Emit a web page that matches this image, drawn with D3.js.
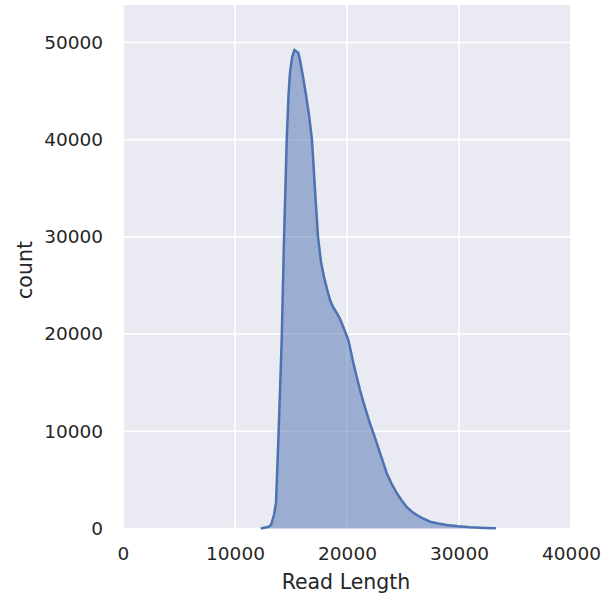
<!DOCTYPE html>
<html>
<head>
<meta charset="utf-8">
<script src="https://cdn.jsdelivr.net/npm/d3@7"></script>
<style>
  html, body { margin: 0; padding: 0; background: #ffffff; }
  svg { display: block; }
  text { font-family: "DejaVu Sans", sans-serif; fill: #262626; }
</style>
</head>
<body>
<svg id="chart" width="603" height="601"></svg>
<script>
// Read length (bin centres) and counts
const readLength = [12300, 12590, 12950, 13215, 13480, 13660, 13870, 14170, 14375,
  14617, 14780, 14912, 15090, 15296, 15447, 15652, 15804, 16072, 16340,
  16608, 16875, 17143, 17411, 17679, 17947, 18215, 18483, 18751, 19081,
  19376, 19670, 19912, 20117, 20358, 20563, 20849, 21161, 21456, 21760,
  22054, 22349, 22652, 22947, 23242, 23545, 23991, 24438, 24884, 25331,
  25777, 26224, 26787, 27412, 28125, 28902, 29911, 30983, 32322, 33300];
const counts = [10, 70, 150, 360, 1390, 2620, 9100, 19400, 29700,
  39950, 44600, 46900, 48400, 49240, 49100, 48930, 48200, 46460, 44600,
  42550, 39950, 34830, 30000, 27420, 25880, 24640, 23510, 22790, 22170,
  21560, 20730, 20010, 19390, 18160, 17030, 15690, 14250, 13020, 11890,
  10800, 9830, 8800, 7770, 6740, 5710, 4580, 3650, 2880, 2210,
  1750, 1390, 1030, 700, 520, 370, 230, 130, 55, 15];
const xTicks = [0, 10000, 20000, 30000, 40000];
const yTicks = [0, 10000, 20000, 30000, 40000, 50000];
const xLabel = "Read Length";
const yLabel = "count";

(function () {
const svg = d3.select("#chart");
const pL = 123, pR = 571, pT = 5, pB = 528.5;
const x = d3.scaleLinear().domain([0, 40000]).range([pL, pR]);
const y = d3.scaleLinear().domain([0, 53850]).range([pB, pT]);

svg.append("rect").attr("x", pL).attr("y", pT)
  .attr("width", pR - pL).attr("height", pB - pT).attr("fill", "#EAEAF2");

const g = svg.append("g");
g.selectAll(".gx").data(xTicks).join("line")
  .attr("x1", d => x(d)).attr("x2", d => x(d)).attr("y1", pT).attr("y2", pB)
  .attr("stroke", "#ffffff").attr("stroke-width", 1.6);
g.selectAll(".gy").data(yTicks).join("line")
  .attr("y1", d => y(d)).attr("y2", d => y(d)).attr("x1", pL).attr("x2", pR)
  .attr("stroke", "#ffffff").attr("stroke-width", 1.6);

const pts = readLength.map((d, i) => [d, counts[i]]);
const area = d3.area().x(d => x(d[0])).y0(y(0)).y1(d => y(d[1]));
const line = d3.line().x(d => x(d[0])).y(d => y(d[1]));

svg.append("path").datum(pts).attr("d", area)
  .attr("fill", "#4C72B0").attr("fill-opacity", 0.5);
svg.append("path").datum(pts).attr("d", line)
  .attr("fill", "none").attr("stroke", "#4C72B0").attr("stroke-width", 2.5)
  .attr("stroke-linejoin", "round");

const xAxis = d3.axisBottom(x).tickValues(xTicks).tickSize(0).tickPadding(18).tickFormat(d3.format("d"));
const xg = svg.append("g").attr("transform", `translate(0,${pB})`).call(xAxis);
xg.select(".domain").remove();
xg.selectAll("text").attr("font-size", 18.5).attr("fill", "#262626")
  .attr("font-family", "DejaVu Sans, sans-serif");

const yAxis = d3.axisLeft(y).tickValues(yTicks).tickSize(0).tickPadding(20).tickFormat(d3.format("d"));
const yg = svg.append("g").attr("transform", `translate(${pL},0)`).call(yAxis);
yg.select(".domain").remove();
yg.selectAll("text").attr("font-size", 18.5).attr("fill", "#262626")
  .attr("font-family", "DejaVu Sans, sans-serif");

svg.append("text").attr("x", (pL + pR) / 2 - 1).attr("y", 589)
  .attr("text-anchor", "middle").attr("font-size", 20.5).text(xLabel);
svg.append("text").attr("transform", "translate(32,270) rotate(-90)")
  .attr("text-anchor", "middle").attr("font-size", 20.5).text(yLabel);
})();
</script>
</body>
</html>
